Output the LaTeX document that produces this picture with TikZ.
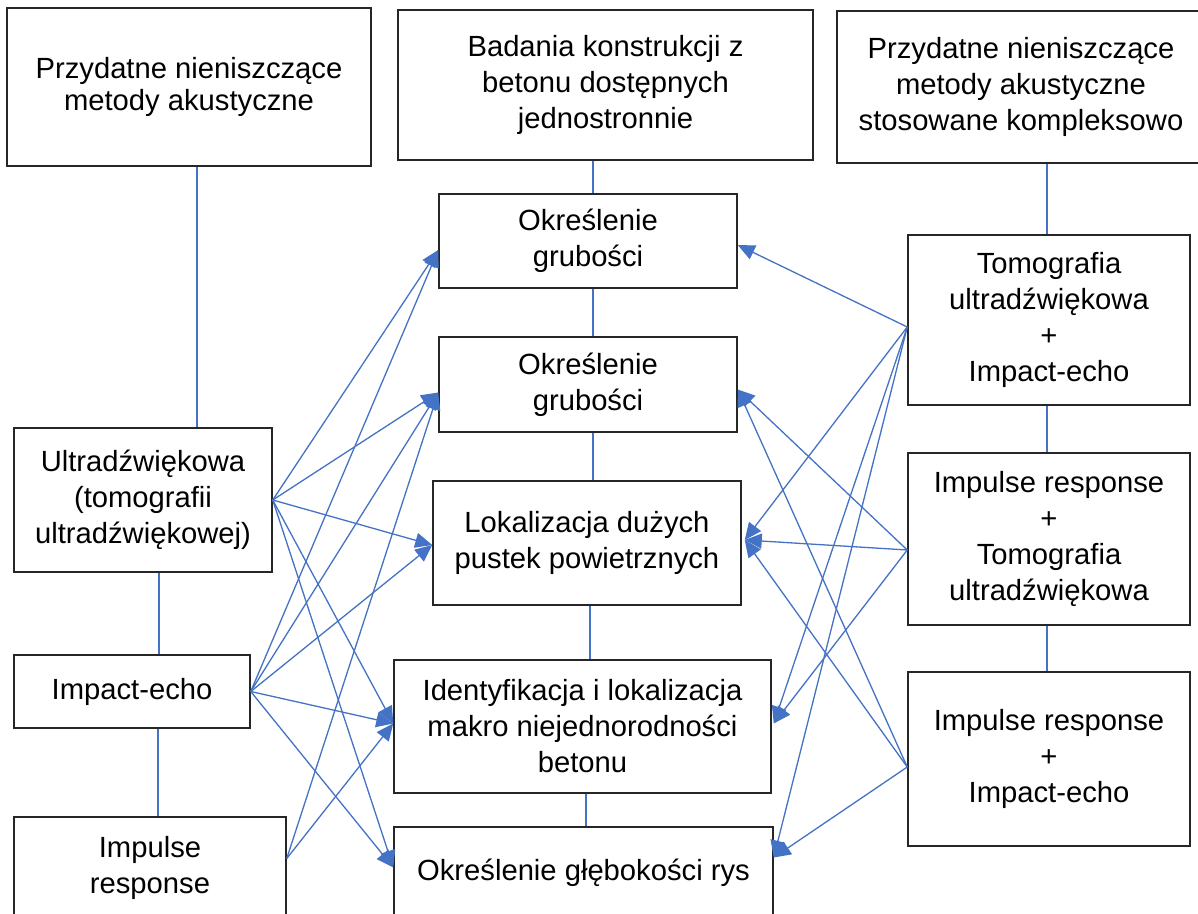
\documentclass[tikz,border=0pt]{standalone}
\usepackage{fontspec}
\setmainfont{Liberation Sans}
\usetikzlibrary{arrows.meta,calc}
\definecolor{linkblue}{HTML}{4472C4}
\definecolor{boxline}{HTML}{262626}
\begin{document}
\begin{tikzpicture}[x=0.5pt,y=-0.5pt,
  box/.style 2 args={draw=boxline, line width=0.75pt, rectangle, inner sep=0pt,
    align=center, minimum width=#1*0.5pt, minimum height=#2*0.5pt,
    font=\fontsize{14.6pt}{18pt}\selectfont, text=black},
  tight/.style={font=\fontsize{14.6pt}{16pt}\selectfont},
  link/.style={draw=linkblue, line width=0.65pt},
  arr/.style={link, -{Triangle[length=8.5pt,width=7.5pt]}},
]
\clip (0,0) rectangle (1198,914);
\fill[white] (0,0) rectangle (1198,914);

% headers
\node[box={364}{158}, tight] (L0) at (189,87) {Przydatne nieniszczące\\metody akustyczne};
\node[box={415}{150}] (M0) at (605.5,85) {Badania konstrukcji z\\betonu dostępnych\\jednostronnie};
\node[box={368}{152}] (R0) at (1021,87) {Przydatne nieniszczące\\metody akustyczne\\stosowane kompleksowo};

% single methods
\node[box={258}{144}] (L1) at (143,500) {Ultradźwiękowa\\(tomografii\\ultradźwiękowej)};
\node[box={236}{73}] (L2) at (132,691.5) {Impact-echo};
\node[box={272}{101}] (L3) at (150,867.5) {Impulse\\response};

% tasks
\node[box={298}{94}] (M1) at (588,241) {Określenie\\grubości};
\node[box={298}{95}] (M2) at (588,384.5) {Określenie\\grubości};
\node[box={308}{124}] (M3) at (587,543) {Lokalizacja dużych\\pustek powietrznych};
\node[box={377}{133}] (M4) at (582.5,726.5) {Identyfikacja i lokalizacja\\makro niejednorodności\\betonu};
\node[box={379}{91}] (M5) at (583.5,872.5) {Określenie głębokości rys};

% combined methods
\node[box={282}{170}] (R1) at (1049,320) {Tomografia\\ultradźwiękowa\\+\\Impact-echo};
\node[box={282}{172}] (R2) at (1049,539) {Impulse response\\+\\Tomografia\\ultradźwiękowa};
\node[box={282}{174}] (R3) at (1049,759) {Impulse response\\+\\Impact-echo};

% vertical links inside each column
\coordinate (vL01) at (197,0);
\coordinate (vL12) at (159,0);
\coordinate (vL23) at (158,0);
\coordinate (vM) at (593,0);
\coordinate (vM34) at (590,0);
\coordinate (vM45) at (586,0);
\coordinate (vR) at (1047,0);
\draw[link] (vL01 |- L0.south) -- (vL01 |- L1.north);
\draw[link] (vL12 |- L1.south) -- (vL12 |- L2.north);
\draw[link] (vL23 |- L2.south) -- (vL23 |- L3.north);
\draw[link] (vM |- M0.south) -- (vM |- M1.north);
\draw[link] (vM |- M1.south) -- (vM |- M2.north);
\draw[link] (vM |- M2.south) -- (vM |- M3.north);
\draw[link] (vM34 |- M3.south) -- (vM34 |- M4.north);
\draw[link] (vM45 |- M4.south) -- (vM45 |- M5.north);
\draw[link] (vR |- R0.south) -- (vR |- R1.north);
\draw[link] (vR |- R1.south) -- (vR |- R2.north);
\draw[link] (vR |- R2.south) -- (vR |- R3.north);

% arrow origins and targets
\coordinate (sL1) at (L1.east);
\coordinate (sL2) at (L2.east);
\coordinate (sL3) at ($(L3.east)+(0,-9)$);
\coordinate (sR1) at ($(R1.west)+(0,7)$);
\coordinate (sR2) at ($(R2.west)+(0,11)$);
\coordinate (sR3) at ($(R3.west)+(0,8)$);
\coordinate (tM1w) at ($(M1.west)+(0,9)$);
\coordinate (tM2w) at ($(M2.west)+(0,8)$);
\coordinate (tM3w) at ($(M3.west)+(0,2)$);
\coordinate (tM4w) at ($(M4.west)+(0,-3)$);
\coordinate (tM5w) at ($(M5.west)+(0,-5)$);
\coordinate (tM1e) at ($(M1.east)+(0,4)$);
\coordinate (tM2e) at ($(M2.east)+(0,5)$);
\coordinate (tM3e) at ($(M3.east)+(3,-3)$);
\coordinate (tM4e) at ($(M4.east)+(2,-3)$);
\coordinate (tM5e) at ($(M5.east)+(0,-15)$);

% methods -> tasks
\foreach \s/\t in {sL1/tM1w, sL1/tM2w, sL1/tM3w, sL1/tM4w, sL1/tM5w,
                   sL2/tM1w, sL2/tM2w, sL2/tM3w, sL2/tM4w, sL2/tM5w,
                   sL3/tM2w, sL3/tM4w,
                   sR1/tM1e, sR1/tM3e, sR1/tM4e, sR1/tM5e,
                   sR2/tM2e, sR2/tM3e, sR2/tM4e,
                   sR3/tM2e, sR3/tM3e, sR3/tM5e}
  \draw[arr] (\s) -- (\t);
\end{tikzpicture}
\end{document}
